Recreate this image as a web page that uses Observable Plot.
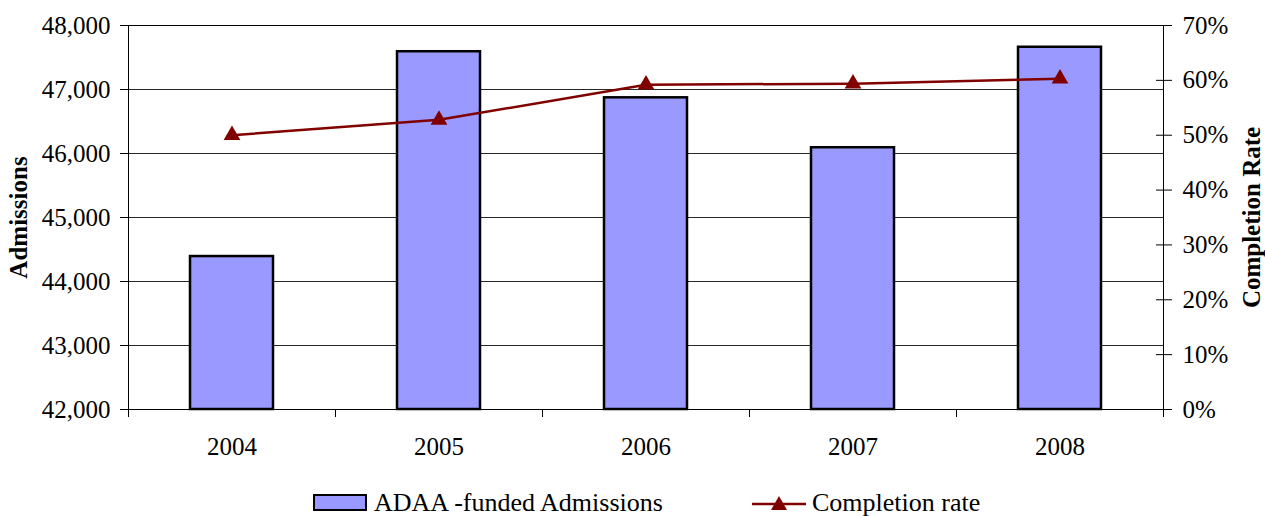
<!DOCTYPE html>
<html>
<head>
<meta charset="utf-8">
<script src="https://cdn.jsdelivr.net/npm/d3@7"></script>
<script src="https://cdn.jsdelivr.net/npm/@observablehq/plot@0.6"></script>
<style>
  html, body { margin: 0; padding: 0; background: #fff; }
  #wrap { position: relative; width: 1265px; height: 516px; overflow: hidden; font-family: "Liberation Serif", "Times New Roman", Times, "DejaVu Serif", serif; }
  .leg { position: absolute; font-size: 26px; line-height: 26px; color: #000; white-space: nowrap; }
</style>
</head>
<body>
<div id="wrap">
  <div id="chart"></div>
  <div class="leg" style="left:313px; top:494px; width:50px; height:13px; background:#9999ff; border:2.5px solid #000;"></div>
  <div class="leg" style="left:374px; top:490px;">ADAA -funded Admissions</div>
  <svg class="leg" style="left:752px; top:491px;" width="54" height="24">
    <line x1="0" y1="13" x2="54" y2="13" stroke="#800000" stroke-width="2.5"></line>
    <path d="M27,5 L35,19 L19,19 Z" fill="#800000"></path>
  </svg>
  <div class="leg" style="left:812px; top:490px;">Completion rate</div>
</div>
<script>
const years = ["2004", "2005", "2006", "2007", "2008"];
const admissions = [44390, 47590, 46870, 46090, 47660];
const completionRate = [0.500, 0.528, 0.592, 0.594, 0.603];
const admissionTicks = [42000, 43000, 44000, 45000, 46000, 47000, 48000];
const rateTicks = [0, 0.1, 0.2, 0.3, 0.4, 0.5, 0.6, 0.7];

const yMin = 42000, yMax = 48000, rateMax = 0.7;
const toY = r => yMin + (r / rateMax) * (yMax - yMin);
const fromY = v => (v - yMin) / (yMax - yMin) * rateMax;

const data = years.map((year, i) => ({year, adm: admissions[i], rate: completionRate[i]}));

const W = 1265, H = 470, mL = 128, mR = 102, mT = 25, mB = 61;
const bw = (W - mL - mR) / years.length;
const font = "'Liberation Serif', 'Times New Roman', Times, 'DejaVu Serif', serif";

const chart = Plot.plot({
  width: W,
  height: H,
  marginLeft: mL,
  marginRight: mR,
  marginTop: mT,
  marginBottom: mB,
  style: {fontFamily: font, fontSize: "25px", color: "#000", background: "#fff"},
  x: {type: "band", domain: years, padding: 0},
  y: {domain: [yMin, yMax]},
  marks: [
    Plot.gridY(admissionTicks, {stroke: "#000", strokeOpacity: 0.85, strokeWidth: 1}),
    Plot.barY(data, {x: "year", y1: yMin, y2: "adm", fill: "#9999ff", stroke: "#000", strokeWidth: 2.5, insetLeft: 62, insetRight: 62}),
    Plot.frame({stroke: "#000", strokeWidth: 1}),
    Plot.axisY(admissionTicks, {anchor: "left", tickSize: 8, tickPadding: 10, tickFormat: d3.format(","), fontSize: 25, label: null}),
    Plot.axisY(rateTicks.map(toY), {anchor: "right", tickSize: 16, dx: -8, tickFormat: () => "", label: null}),
    Plot.axisY(rateTicks.map(toY), {anchor: "right", tickSize: 0, tickPadding: 19, tickFormat: v => Math.round(fromY(v) * 100) + "%", fontSize: 25, label: null}),
    Plot.axisX(years, {anchor: "bottom", tickSize: 0, tickPadding: 28, fontSize: 25, label: null}),
    Plot.axisX(years, {anchor: "bottom", tickSize: 8, dx: -bw / 2, tickFormat: () => "", label: null}),
    Plot.axisX(["2008"], {anchor: "bottom", tickSize: 8, dx: bw / 2, tickFormat: () => "", label: null}),
    Plot.line(data, {x: "year", y: d => toY(d.rate), stroke: "#800000", strokeWidth: 2.5}),
    Plot.dot(data, {x: "year", y: d => toY(d.rate), symbol: "triangle", r: 6.2, fill: "#800000", stroke: "none"}),
    Plot.text(["Admissions"], {frameAnchor: "left", textAnchor: "middle", rotate: -90, dx: -110, fontWeight: "bold", fontSize: 25, fill: "#000"}),
    Plot.text(["Completion Rate"], {frameAnchor: "right", textAnchor: "middle", rotate: -90, dx: 88, fontWeight: "bold", fontSize: 25, fill: "#000"})
  ]
});
document.getElementById("chart").appendChild(chart);
</script>
</body>
</html>
